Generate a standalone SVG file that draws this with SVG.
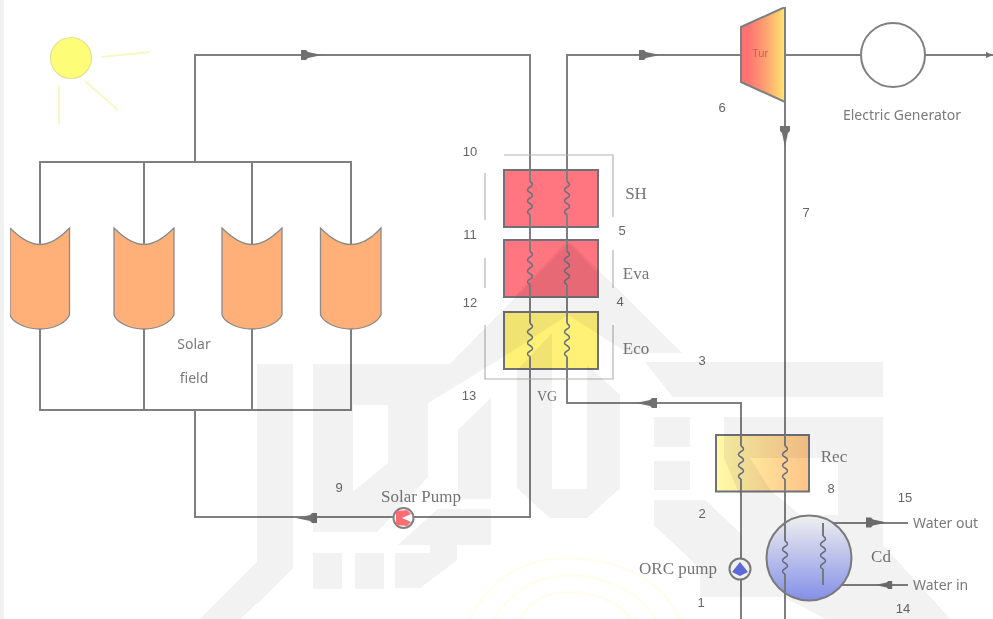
<svg xmlns="http://www.w3.org/2000/svg" width="993" height="619" viewBox="0 0 993 619">
<style>
.ln{fill:none;stroke:#7f7f7f;stroke-width:2}
.box{stroke:#6f7078;stroke-width:2}
.coil{fill:none;stroke:#6a7080;stroke-width:1.5;stroke-linejoin:round}
.thin{fill:none;stroke:#b4b4b4;stroke-width:1.2}
.col{fill:#ffb078;stroke:#8a8a8a;stroke-width:1.3}
.ray{stroke:#f6f9c4;stroke-width:2;fill:none}
.n{font:13px "Liberation Sans",Arial,sans-serif;fill:#666;text-anchor:middle}
.s{font:17px "Liberation Serif","Times New Roman",serif;fill:#757575;text-anchor:middle}
.a{font:14px "Noto Sans","Liberation Sans",sans-serif;fill:#7a7a7a;text-anchor:middle}
.w{text-anchor:start}
.ar{fill:#707070}
</style>
<defs>
<linearGradient id="gTur"><stop offset="0.15" stop-color="#ff7272"/><stop offset="0.55" stop-color="#ffa070"/><stop offset="1" stop-color="#ffe870"/></linearGradient>
<linearGradient id="gRec"><stop offset="0" stop-color="#fffaa8"/><stop offset="1" stop-color="#ffc488"/></linearGradient>
<linearGradient id="gCd" x1="0" y1="0" x2="0" y2="1"><stop offset="0" stop-color="#ffffff"/><stop offset="1" stop-color="#8a96f6"/></linearGradient>
<path id="arw" d="M-12,0 L2,-3 L4,-5 L9,-5 L9,5 L4,5 L2,3 Z"/>
<path id="cz" d="M0,0 q5,3 0,5.500 q-5,3 0,5.500 q5,3 0,5.500 q-5,3 0,5.500 q5,3 0,5.500 q-5,3 0,5.500"/>
<filter id="soft" x="0" y="0" width="100%" height="100%"><feGaussianBlur stdDeviation="0.7"/></filter>
</defs>
<rect width="993" height="619" fill="#ffffff"/>
<rect width="4" height="619" fill="#f0f1f1"/>
<g filter="url(#soft)">
<g id="connectors">
<path class="ln" d="M195,162 V55 H530 V181.500 M530,214.500 V251.500 M530,284.500 V323.500 M530,356.500 V517 H195 V410"/>
<path class="ln" d="M40,162 H351 V410 H40 Z M144,162 V410 M252,162 V410"/>
<path class="ln" d="M741,55 H567 V181.500 M567,214.500 V251.500 M567,284.500 V323.500 M567,356.500 V403 H741 V446 M741,479 V619"/>
<path class="ln" d="M785,55 V446 M785,479 V619"/>
<path class="ln" d="M785,55 H861 M925,55 H993"/>
<path class="ln" d="M823,523 H908 M823,585 H908"/>
<use href="#arw" class="ar" transform="translate(310,55) rotate(180)"/>
<use href="#arw" class="ar" transform="translate(648,55) rotate(180)"/>
<use href="#arw" class="ar" transform="translate(785,135) rotate(-90)"/>
<use href="#arw" class="ar" transform="translate(648,403)"/>
<use href="#arw" class="ar" transform="translate(308,518)"/>
<use href="#arw" class="ar" transform="translate(875,522.500) rotate(180)"/>
<use href="#arw" class="ar" transform="translate(885,585) scale(.8)"/>
<path class="ar" d="M986,52 L993,55 L986,58 Z"/>
</g>
<g id="sun">
<circle cx="71" cy="58" r="20.500" fill="#fdfd78" stroke="#e2e298" stroke-width="1.2"/>
<path class="ray" d="M101,57 L150,52 M85,81 L118,110 M59,85 V124"/>
</g>
<g id="collector1"><path class="col" d="M10,228 C22,240 32,244.500 40,244.500 C48,244.500 58,240 69.500,228 V315 C66,323 54,329 40,329 C26,329 13,323 10,315 Z"/></g>
<g id="collector2"><path class="col" d="M114,228 C126,240 136,244.500 144,244.500 C152,244.500 162,240 174,228 V315 C170,323 158,329 144,329 C130,329 117,323 114,315 Z"/></g>
<g id="collector3"><path class="col" d="M222,228 C234,240 244,244.500 252,244.500 C260,244.500 270,240 282,228 V315 C278,323 266,329 252,329 C238,329 225,323 222,315 Z"/></g>
<g id="collector4"><path class="col" d="M320.500,228 C332,240 342,244.500 351,244.500 C360,244.500 370,240 381,228 V315 C377,323 365,329 351,329 C337,329 324,323 320.500,315 Z"/></g>
<g id="vg-frame">
<path class="thin" d="M504,155 H613 V217 M613,250 V288 M613,325 V379 H485 V325 M485,288 V258 M485,220 V173"/>
</g>
<g id="sh">
<rect class="box" x="504" y="170" width="94" height="57" fill="#ff7480"/>
<path class="ln" d="M530,170 V181.500 M530,214.500 V227 M567,170 V181.500 M567,214.500 V227"/>
<use href="#cz" class="coil" transform="translate(530,181.500)"/><use href="#cz" class="coil" transform="translate(567,181.500)"/>
</g>
<g id="eva">
<rect class="box" x="504" y="240" width="94" height="57" fill="#ff7480"/>
<path d="M567,241 L515,296 H597 V273 Z" fill="#8a2030" opacity="0.08"/>
<path class="ln" d="M530,240 V251.500 M530,284.500 V297 M567,240 V251.500 M567,284.500 V297"/>
<use href="#cz" class="coil" transform="translate(530,251.500)"/><use href="#cz" class="coil" transform="translate(567,251.500)"/>
</g>
<g id="eco">
<rect class="box" x="504" y="312" width="94" height="57" fill="#fff176"/>
<path class="ln" d="M530,312 V323.500 M530,356.500 V369 M567,312 V323.500 M567,356.500 V369"/>
<use href="#cz" class="coil" transform="translate(530,323.500)"/><use href="#cz" class="coil" transform="translate(567,323.500)"/>
</g>
<g id="turbine">
<path d="M741,27 L785,7 V102 L741,82 Z" fill="url(#gTur)" stroke="#7f7f80" stroke-width="2"/>
<text x="760" y="57" style="font:11px 'Liberation Sans',sans-serif;fill:#d25a5c;text-anchor:middle">Tur</text>
</g>
<g id="generator"><circle cx="893" cy="55" r="32" fill="#fff" stroke="#808080" stroke-width="2"/></g>
<g id="rec">
<rect class="box" x="716" y="435" width="93" height="56.500" fill="url(#gRec)"/>
<path class="ln" d="M741,435 V446 M741,479 V491 M785,435 V446 M785,479 V491"/>
<use href="#cz" class="coil" transform="translate(741,446)"/><use href="#cz" class="coil" transform="translate(785,446)"/>
</g>
<g id="condenser">
<circle cx="809" cy="558" r="42.500" fill="url(#gCd)" stroke="#808080" stroke-width="2"/>
<path class="ln" d="M785,522 V541 M785,574 V599 M823,523 V536 M823,569 V585"/>
<use href="#cz" class="coil" transform="translate(785,541)"/><use href="#cz" class="coil" transform="translate(823,536)"/>
</g>
<g id="orc-pump">
<circle cx="740" cy="569" r="10.500" fill="#fff" stroke="#7f7f80" stroke-width="2"/>
<path d="M732,572 L740,562 L748,572 L740,576 Z" fill="#5e6ee4"/>
</g>
<g id="solar-pump">
<circle cx="403.500" cy="518" r="10" fill="#fff" stroke="#808080" stroke-width="2"/>
<path d="M396,511 L407,510 L411,514 L402,518 L411,522 L407,526 L396,525 Z" fill="#ff6c72"/>
</g>
<g id="labels">
<text class="n" x="470" y="156">10</text><text class="n" x="470" y="239">11</text><text class="n" x="470" y="307">12</text><text class="n" x="469" y="400">13</text>
<text class="n" x="622" y="235">5</text><text class="n" x="620" y="306">4</text><text class="n" x="702" y="365">3</text><text class="n" x="722" y="112">6</text>
<text class="n" x="806" y="217">7</text><text class="n" x="831" y="493">8</text><text class="n" x="339" y="492">9</text><text class="n" x="702" y="518">2</text>
<text class="n" x="701" y="607">1</text><text class="n" x="905" y="502">15</text><text class="n" x="903" y="613">14</text>
<text class="s" x="547" y="401" style="font-size:14px">VG</text>
<text class="s" x="636" y="199">SH</text><text class="s" x="636" y="279">Eva</text><text class="s" x="636" y="354">Eco</text>
<text class="s" x="834" y="462">Rec</text><text class="s" x="881" y="562">Cd</text>
<text class="s" x="421" y="502">Solar Pump</text><text class="s" x="678" y="574">ORC pump</text>
<text class="a" x="194" y="349">Solar</text><text class="a" x="194" y="383">field</text>
<text class="a" x="902" y="120">Electric Generator</text>
<text class="a w" x="913" y="528">Water out</text><text class="a w" x="913" y="590">Water in</text>
</g>
<g id="backdrop-arcs" fill="none" stroke="#fefdf0" stroke-width="3">
<path d="M470,619 C490,575 530,558 568,558 C610,558 660,575 680,619 M495,619 C510,590 540,575 568,575 C600,575 640,590 655,619 M520,619 C530,600 550,592 568,592 C590,592 620,600 630,619"/>
</g>
<g id="backdrop-mark" fill="#383a36" opacity="0.07">
<path fill-rule="evenodd" d="M313,364 H450 L570,242 L682,353 H628 L568,315 L503,357 L428,403 V477 L377,532 H313 Z M353,405 H388 V463 L353,492 Z"/>
<path d="M257,364 H293 V568 L257,604 Z"/>
<path d="M200,619 L257,562 V603 L240,619 Z"/>
<path d="M458,430 L491,398 V499 H458 Z"/>
<path d="M438,509 H491 V545 H457 V560 L420,588 H395 V553 H430 V545 H398 Z"/>
<path d="M313,553 H342 V589 H313 Z M355,553 H384 V589 H355 Z"/>
<path d="M517,370 L552,333 V489 H587 V365 L620,395 V488 L587,518 H550 L517,488 Z"/>
<path d="M645,362 H883 V397 H673 Z"/>
<path d="M654,417 H690 V447 H654 Z M654,461 H690 V490 H654 Z"/>
<path fill-rule="evenodd" d="M724,417 H883 V545 L950,619 H826 L784,597 H700 V568 L654,525 V500 H705 L742,535 V500 L724,458 Z M750,458 H838 V515 H800 L771,491 Z"/>
</g>
</g>
</svg>
